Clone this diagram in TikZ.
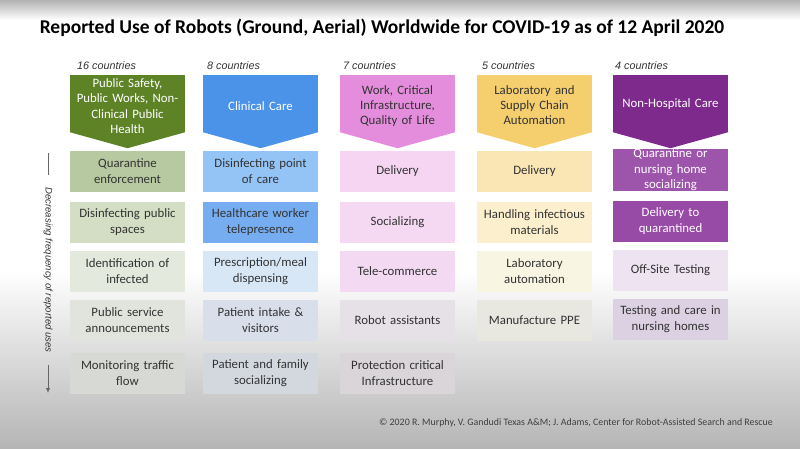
\documentclass[tikz,border=0pt]{standalone}
\usepackage{fontspec}
\setmainfont{Carlito}
\newfontfamily\arialfont{Liberation Sans}
\usetikzlibrary{arrows.meta}
\definecolor{grnA}{HTML}{5E8327}
\definecolor{grnB}{HTML}{B7C9A0}
\definecolor{grnC}{HTML}{D3DEC4}
\definecolor{grnD}{HTML}{E3E9DC}
\definecolor{grnE}{HTML}{E1E4DD}
\definecolor{grnF}{HTML}{D7D9D4}
\definecolor{bluA}{HTML}{4B93E8}
\definecolor{bluB}{HTML}{94C4F5}
\definecolor{bluC}{HTML}{76ADF0}
\definecolor{bluD}{HTML}{D8E7F6}
\definecolor{bluE}{HTML}{D8DFEA}
\definecolor{bluF}{HTML}{D3D8DF}
\definecolor{pnkA}{HTML}{E48DDC}
\definecolor{pnkB}{HTML}{F5D5F1}
\definecolor{pnkC}{HTML}{F5D9F2}
\definecolor{pnkD}{HTML}{F3DAF2}
\definecolor{pnkE}{HTML}{E6E1E6}
\definecolor{pnkF}{HTML}{D9D5D9}
\definecolor{yelA}{HTML}{F5CE6E}
\definecolor{yelB}{HTML}{FAE5B5}
\definecolor{yelC}{HTML}{FBEFCD}
\definecolor{yelD}{HTML}{F8F5E3}
\definecolor{yelE}{HTML}{E8E7E0}
\definecolor{purA}{HTML}{7D2A8C}
\definecolor{purB}{HTML}{9D55AB}
\definecolor{purC}{HTML}{974AA6}
\definecolor{purD}{HTML}{EDE3F1}
\definecolor{purE}{HTML}{DCD1E2}

\begin{document}
\begin{tikzpicture}[x=1pt,y=-1pt,
headbox/.style={minimum width=115pt, minimum height=57pt, inner sep=0pt},
headtext/.style={text width=114pt, align=center, inner sep=0pt, font=\fontsize{12.8}{15.4}\selectfont},
usebox/.style={minimum width=115pt, minimum height=41pt, inner sep=0pt, text width=114pt, align=center, font=\fontsize{12.8}{15.5}\selectfont, text=black!80},
cnt/.style={anchor=west, inner sep=0pt, font=\arialfont\itshape\fontsize{10.8}{12}\selectfont, text=black!80}]
\useasboundingbox (0,0) rectangle (800,448);
\fill[white] (0,0) rectangle (800,448);
\shade[top color=black!30, bottom color=white] (0,0) rectangle (800,20);
\shade[top color=white, bottom color=black!29] (0,270) rectangle (800,448);
\node[font=\bfseries\fontsize{19.5}{22}\selectfont] (title) at (382,28) {Reported Use of Robots (Ground, Aerial) Worldwide for COVID-19 as of 12 April 2020};
\par
\node[cnt] (n1) at (77,66) {16 countries};
\node[headbox, fill=grnA] (hb1) at (127.5,103.5) {};
\fill[grnA] (hb1.south west) -- (hb1.south east) -- ([yshift=-16pt]hb1.south) -- cycle;
\node[headtext, text=white] (ht1) at (127.5,106) {Public Safety,\\Public Works, Non-\\Clinical Public\\Health};
\node[usebox, fill=grnB] (a1) at (127.5,171) {Quarantine\\enforcement};
\node[usebox, fill=grnC] (a2) at (127.5,222) {Disinfecting public\\spaces};
\node[usebox, fill=grnD] (a3) at (127.5,271) {Identification of\\infected};
\node[usebox, fill=grnE] (a4) at (127.5,320) {Public service\\announcements};
\node[usebox, fill=grnF] (a5) at (127.5,373) {Monitoring traffic\\flow};
\par
\node[cnt] (n2) at (207,66) {8 countries};
\node[headbox, fill=bluA] (hb2) at (260.5,103.5) {};
\fill[bluA] (hb2.south west) -- (hb2.south east) -- ([yshift=-16pt]hb2.south) -- cycle;
\node[headtext, text=white] (ht2) at (260.5,106) {Clinical Care};
\node[usebox, fill=bluB] (b1) at (260.5,171) {Disinfecting point\\of care};
\node[usebox, fill=bluC] (b2) at (260.5,222) {Healthcare worker\\telepresence};
\node[usebox, fill=bluD] (b3) at (260.5,271) {Prescription/meal\\dispensing};
\node[usebox, fill=bluE] (b4) at (260.5,320) {Patient intake \&\\visitors};
\node[usebox, fill=bluF] (b5) at (260.5,373) {Patient and family\\socializing};
\par
\node[cnt] (n3) at (343,66) {7 countries};
\node[headbox, fill=pnkA] (hb3) at (397.5,103.5) {};
\fill[pnkA] (hb3.south west) -- (hb3.south east) -- ([yshift=-16pt]hb3.south) -- cycle;
\node[headtext, text=black!80] (ht3) at (397.5,106) {Work, Critical\\Infrastructure,\\Quality of Life};
\node[usebox, fill=pnkB] (c1) at (397.5,171) {Delivery};
\node[usebox, fill=pnkC] (c2) at (397.5,222) {Socializing};
\node[usebox, fill=pnkD] (c3) at (397.5,271) {Tele-commerce};
\node[usebox, fill=pnkE] (c4) at (397.5,320) {Robot assistants};
\node[usebox, fill=pnkF] (c5) at (397.5,373) {Protection critical\\Infrastructure};
\par
\node[cnt] (n4) at (482,66) {5 countries};
\node[headbox, fill=yelA] (hb4) at (534.5,103.5) {};
\fill[yelA] (hb4.south west) -- (hb4.south east) -- ([yshift=-16pt]hb4.south) -- cycle;
\node[headtext, text=black!80] (ht4) at (534.5,105) {Laboratory and\\Supply Chain\\Automation};
\node[usebox, fill=yelB] (d1) at (534.5,171) {Delivery};
\node[usebox, fill=yelC] (d2) at (534.5,222) {Handling infectious\\materials};
\node[usebox, fill=yelD] (d3) at (534.5,271) {Laboratory\\automation};
\node[usebox, fill=yelE] (d4) at (534.5,320) {Manufacture PPE};
\par
\node[cnt] (n5) at (615,66) {4 countries};
\node[headbox, fill=purA] (hb5) at (670.5,103.5) {};
\fill[purA] (hb5.south west) -- (hb5.south east) -- ([yshift=-16pt]hb5.south) -- cycle;
\node[headtext, text=white] (ht5) at (670.5,104) {Non-Hospital Care};
\node[usebox, fill=purB, text=white] (e1) at (670.5,170) {Quarantine or\\nursing home\\socializing};
\node[usebox, fill=purC, text=white] (e2) at (670.5,221) {Delivery to\\quarantined};
\node[usebox, fill=purD] (e3) at (670.5,270) {Off-Site Testing};
\node[usebox, fill=purE] (e4) at (670.5,319) {Testing and care in\\nursing homes};
\par
\coordinate (arTop) at (48,153);
\coordinate (arBot) at (48,393);
\node[rotate=-90, inner xsep=12pt, inner ysep=0pt, font=\arialfont\itshape\fontsize{9.6}{11}\selectfont, text=black!80] (side) at (48,270) {Decreasing frequency of reported uses};
\draw[black!60, line width=1pt] (arTop) -- (side.west);
\draw[black!60, line width=1pt, -{Latex[length=5pt,width=4.5pt]}] (side.east) -- (arBot);
\node[font=\fontsize{9.9}{11}\selectfont, text=black!75] (foot) at (576,423) {© 2020 R. Murphy, V. Gandudi Texas A\&M; J. Adams, Center for Robot-Assisted Search and Rescue};
\par
\end{tikzpicture}
\end{document}
